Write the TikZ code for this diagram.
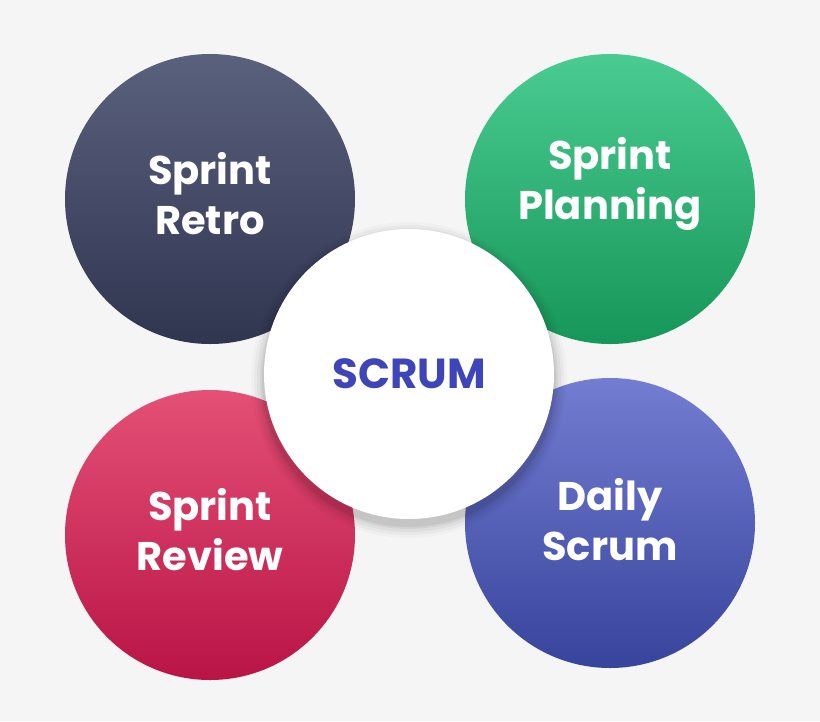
\documentclass[tikz,border=0pt]{standalone}
\usepackage{fontspec}
\setmainfont{Poppins}
\tikzset{
  disc/.style={circle,minimum size=290pt,inner sep=0pt},
  disctext/.style={align=center,text=white,font=\fontsize{40}{50}\selectfont\bfseries},
}
\begin{document}
\begin{tikzpicture}[x=1pt,y=-1pt]
\fill[fill={rgb,255:red,245;green,245;blue,245}] (0,0) rectangle (820,721);
\useasboundingbox (0,0) rectangle (820,721);
\node[disc,top color={rgb,255:red,90;green,97;blue,125},bottom color={rgb,255:red,48;green,53;blue,80}] (retro) at (210,199) {};
\node[disctext] (retrotxt) at (210,194) {Sprint\\Retro};
\node[disc,top color={rgb,255:red,74;green,203;blue,145},bottom color={rgb,255:red,22;green,150;blue,88}] (plan) at (610,199) {};
\node[disctext] (plantxt) at (610,184) {Sprint\\Planning};
\node[disc,top color={rgb,255:red,228;green,80;blue,118},bottom color={rgb,255:red,185;green,20;blue,70}] (review) at (210,535) {};
\node[disctext] (reviewtxt) at (210,530) {Sprint\\Review};
\node[disc,top color={rgb,255:red,115;green,125;blue,210},bottom color={rgb,255:red,55;green,68;blue,155}] (daily) at (610,523) {};
\node[disctext] (dailytxt) at (610,520) {Daily\\Scrum};
\foreach \r/\o in {158/0.02,155/0.03,152/0.04,149/0.05,147/0.06}
  \fill[black,opacity=\o] (409,380) circle (\r);
\node[circle,minimum size=290pt,fill=white,
  text={rgb,255:red,61;green,69;blue,184},font=\fontsize{42}{48}\selectfont\bfseries] (scrum) at (409,374) {SCRUM};
\end{tikzpicture}
\end{document}
